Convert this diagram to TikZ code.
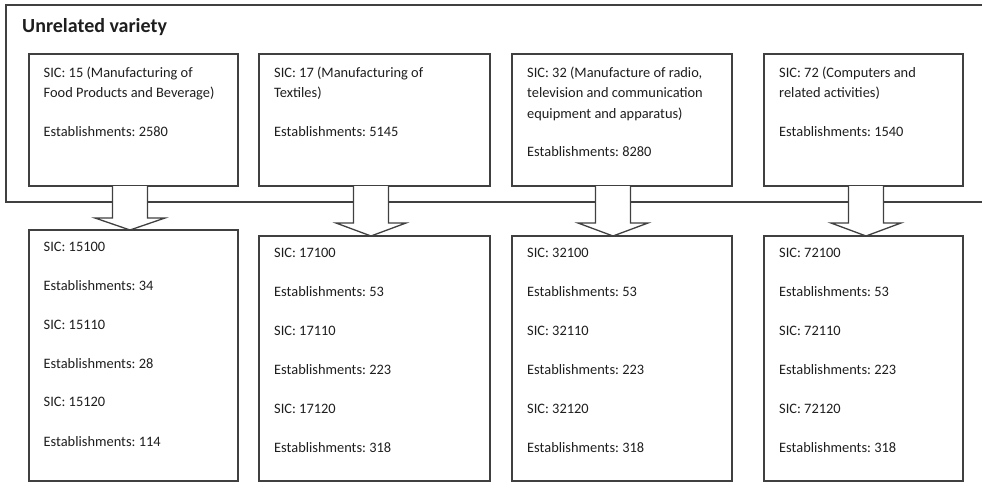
\documentclass[tikz,border=0pt]{standalone}
\usepackage{fontspec}
\setmainfont{Carlito}
\usetikzlibrary{calc}
\definecolor{linec}{RGB}{64,64,64}
\definecolor{textc}{RGB}{30,30,30}
\frenchspacing
\begin{document}
\begin{tikzpicture}[x=1pt,y=-1pt,
 box/.style={draw=linec, line width=1.3pt, fill=white, inner sep=0pt, outer sep=0pt},
 txt/.style={anchor=base west, inner sep=0pt, text=textc, font=\frenchspacing\fontsize{14.4}{17}\selectfont},
 ttl/.style={anchor=base west, inner sep=0pt, text=textc, font=\fontsize{20}{24}\selectfont\bfseries},
 barrow/.style={draw=linec, line width=1.3pt, fill=white, line join=miter}]
\useasboundingbox (0,0) rectangle (982,482);
\clip (0,0) rectangle (982,482);
% outer frame
\node[box, minimum width=994, minimum height=197, anchor=north west] (frame) at (6,5) {};
\node[ttl] (title) at (22,32) {Unrelated variety};
% top boxes
\node[box, minimum width=209, minimum height=132] (t1) at (133.5,120) {};
\node[box, minimum width=231, minimum height=132] (t2) at (374.5,120) {};
\node[box, minimum width=220, minimum height=132] (t3) at (622,120) {};
\node[box, minimum width=199, minimum height=132] (t4) at (863.5,120) {};
% bottom boxes
\node[box, minimum width=209, minimum height=251] (b1) at (133.5,355.5) {};
\node[box, minimum width=231, minimum height=245] (b2) at (374.5,358.5) {};
\node[box, minimum width=220, minimum height=245] (b3) at (622,358.5) {};
\node[box, minimum width=199, minimum height=245] (b4) at (863.5,358.5) {};
% arrow axes
\coordinate (a1) at (130,0);
\coordinate (a2) at (371,0);
\coordinate (a3) at (613,0);
\coordinate (a4) at (866,0);
% block arrows
\draw[barrow] ($(a1 |- t1.south)+(-17.5,0)$) -- ++(0,32) -- ++(-17.5,0) -- (a1 |- b1.north)
  -- ($(a1 |- t1.south)+(35,32)$) -- ++(-17.5,0) -- ($(a1 |- t1.south)+(17.5,0)$);
\draw[barrow] ($(a2 |- t2.south)+(-17.5,0)$) -- ++(0,37) -- ++(-17.5,0) -- (a2 |- b2.north)
  -- ($(a2 |- t2.south)+(35,37)$) -- ++(-17.5,0) -- ($(a2 |- t2.south)+(17.5,0)$);
\draw[barrow] ($(a3 |- t3.south)+(-17.5,0)$) -- ++(0,37) -- ++(-17.5,0) -- (a3 |- b3.north)
  -- ($(a3 |- t3.south)+(35,37)$) -- ++(-17.5,0) -- ($(a3 |- t3.south)+(17.5,0)$);
\draw[barrow] ($(a4 |- t4.south)+(-17.5,0)$) -- ++(0,37) -- ++(-17.5,0) -- (a4 |- b4.north)
  -- ($(a4 |- t4.south)+(35,37)$) -- ++(-17.5,0) -- ($(a4 |- t4.south)+(17.5,0)$);
% top texts
\node[txt] (t1l1) at (43.5,77) {SIC: 15 (Manufacturing of};
\node[txt] (t1l2) at (43.5,97.5) {Food Products and Beverage)};
\node[txt] (t1l3) at (43.5,136) {Establishments: 2580};
\node[txt] (t2l1) at (274,77) {SIC: 17 (Manufacturing of};
\node[txt] (t2l2) at (274,97.5) {Textiles)};
\node[txt] (t2l3) at (274,136) {Establishments: 5145};
\node[txt] (t3l1) at (527,77) {SIC: 32 (Manufacture of radio,};
\node[txt] (t3l2) at (527,97.5) {television and communication};
\node[txt] (t3l3) at (527,118) {equipment and apparatus)};
\node[txt] (t3l4) at (527,156.5) {Establishments: 8280};
\node[txt] (t4l1) at (779,77) {SIC: 72 (Computers and};
\node[txt] (t4l2) at (779,97.5) {related activities)};
\node[txt] (t4l3) at (779,136) {Establishments: 1540};
% bottom texts
\node[txt] (b1l1) at (43.5,251) {SIC: 15100};
\node[txt] (b1l2) at (43.5,290.5) {Establishments: 34};
\node[txt] (b1l3) at (43.5,329) {SIC: 15110};
\node[txt] (b1l4) at (43.5,368) {Establishments: 28};
\node[txt] (b1l5) at (43.5,406.5) {SIC: 15120};
\node[txt] (b1l6) at (43.5,446) {Establishments: 114};
\foreach \n/\x/\c in {2/274/17,3/527/32,4/779/72}{
  \node[txt] (b\n l1) at (\x,257) {SIC: \c100};
  \node[txt] (b\n l2) at (\x,296) {Establishments: 53};
  \node[txt] (b\n l3) at (\x,335) {SIC: \c110};
  \node[txt] (b\n l4) at (\x,374.5) {Establishments: 223};
  \node[txt] (b\n l5) at (\x,413) {SIC: \c120};
  \node[txt] (b\n l6) at (\x,452) {Establishments: 318};
}
\end{tikzpicture}
\end{document}
